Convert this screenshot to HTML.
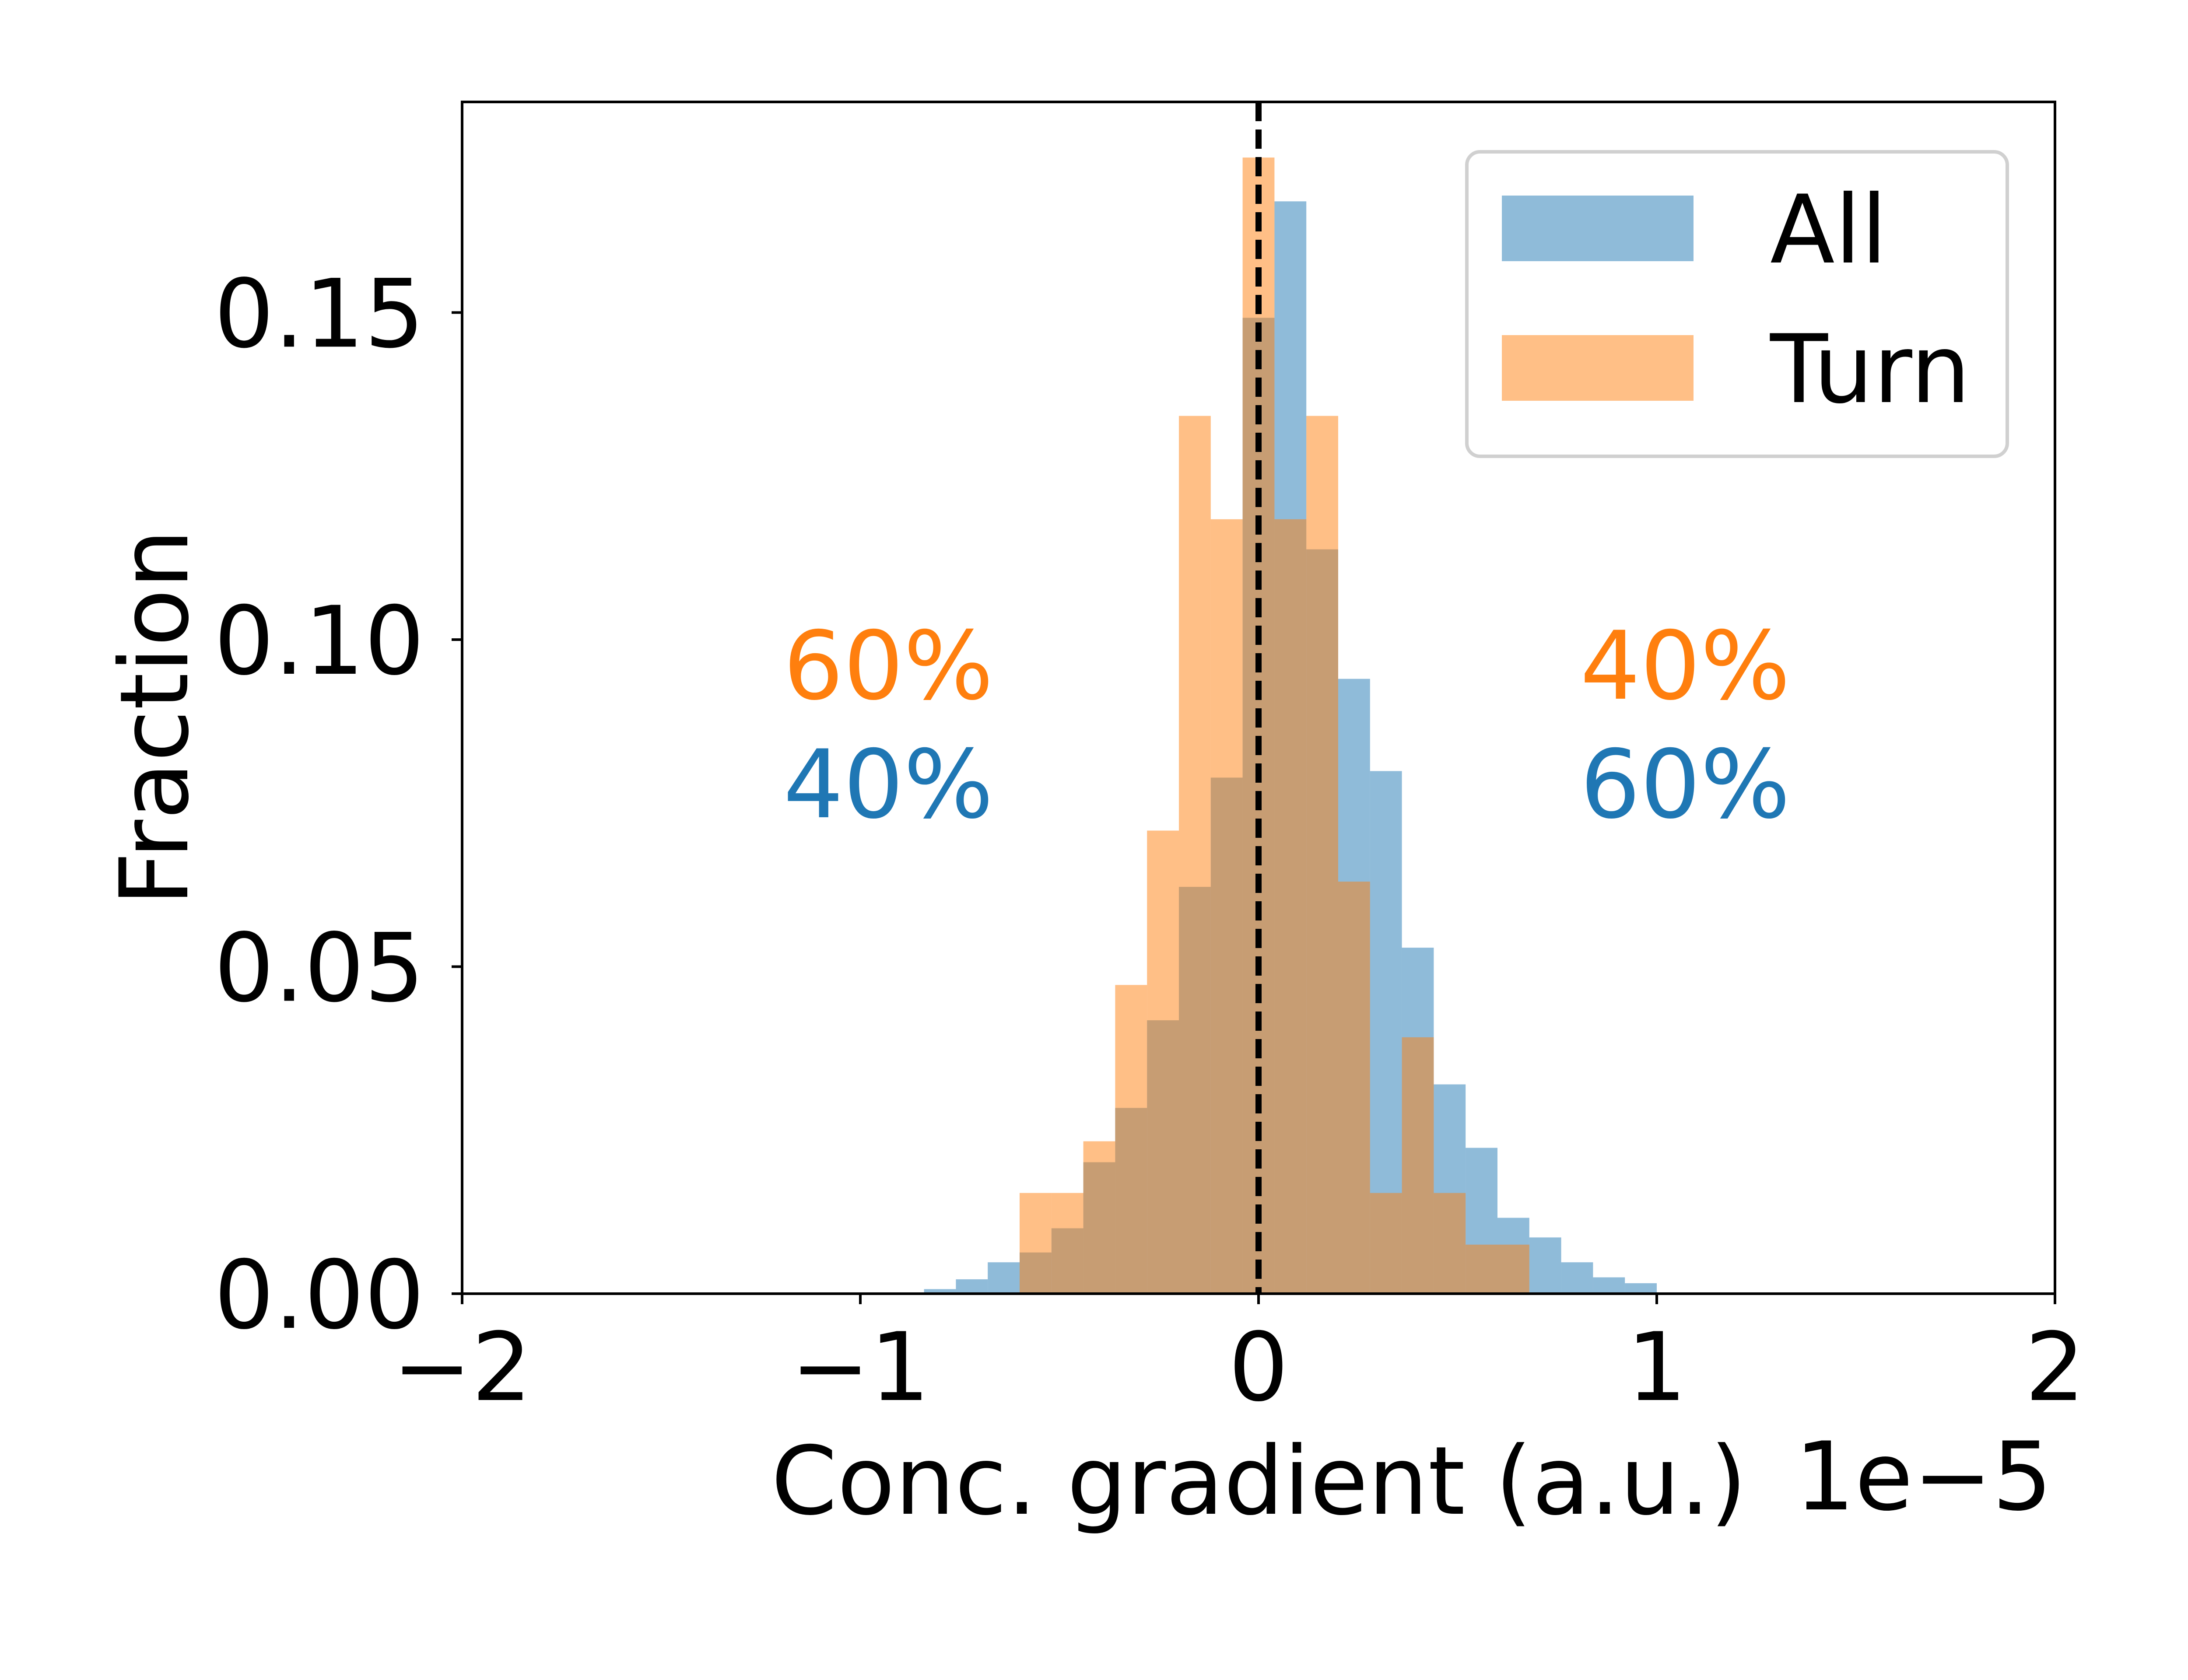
<!DOCTYPE html>
<html><head><meta charset="utf-8"><style>
html,body{margin:0;padding:0;background:#fff;width:5120px;height:3840px;overflow:hidden}
svg text{font-family:"DejaVu Sans","Liberation Sans",sans-serif}
</style></head><body>
<svg id="chart" xmlns="http://www.w3.org/2000/svg" width="5120" height="3840" viewBox="0 0 5120 3840" style="position:absolute;left:0;top:0">
<rect width="5120" height="3840" fill="#fff"/>
<g id="bars-all"></g>
<g id="bars-turn"></g>
<g id="axes"></g>
</svg>
<script>
const binStart = -0.84;
const binWidth = 0.08;
const allValues = [0.0007,0.0022,0.0048,0.0063,0.0100,0.0201,0.0284,0.0418,0.0622,0.0789,0.1492,0.1670,0.1138,0.0940,0.0799,0.0529,0.0320,0.0223,0.0116,0.0086,0.0048,0.0025,0.0016];
const turnValues = [0,0,0,0.0154,0.0154,0.0233,0.0472,0.0708,0.1342,0.1184,0.1737,0.1184,0.1342,0.0630,0.0154,0.0392,0.0154,0.0075,0.0075,0,0,0,0];
const xTicks = [-2,-1,0,1,2];
const xTickLabels = ["\u22122","\u22121","0","1","2"];
const yTicks = [0,0.05,0.10,0.15];
const yTickLabels = ["0.00","0.05","0.10","0.15"];

const L=1056,R=4696,T=233,B=2957;
const xMin=-2,xMax=2,yMin=0,yMax=0.1822;
const xs=v=>L+(v-xMin)/(xMax-xMin)*(R-L);
const ys=v=>B-(v-yMin)/(yMax-yMin)*(B-T);
const NS="http://www.w3.org/2000/svg";
function mk(tag,attrs,parent){const e=document.createElementNS(NS,tag);for(const k in attrs)e.setAttribute(k,attrs[k]);parent.appendChild(e);return e;}

const gA=document.getElementById('bars-all'),gT=document.getElementById('bars-turn'),gX=document.getElementById('axes');
allValues.forEach((v,i)=>{if(v<=0)return;const x0=xs(binStart+i*binWidth),x1=xs(binStart+(i+1)*binWidth);
 const r=mk('rect',{x:x0,y:ys(v),width:x1-x0,height:B-ys(v),fill:'#1f77b4','fill-opacity':0.5},gA);
 
 });
turnValues.forEach((v,i)=>{if(v<=0)return;const x0=xs(binStart+i*binWidth),x1=xs(binStart+(i+1)*binWidth);
 const r=mk('rect',{x:x0,y:ys(v),width:x1-x0,height:B-ys(v),fill:'#ff7f0e','fill-opacity':0.5},gT);
 
 });

const dl=mk('line',{x1:xs(0),x2:xs(0),y1:T,y2:B,stroke:'#000','stroke-width':14,'stroke-dasharray':'44 19'},gX);



const fr=mk('rect',{x:L,y:T,width:R-L,height:B-T,fill:'none',stroke:'#000','stroke-width':6},gX);



xTicks.forEach((t,i)=>{const x=xs(t);
 const tk=mk('line',{x1:x,x2:x,y1:B,y2:B+24,stroke:'#000','stroke-width':6},gX);
 
 
 const tx=mk('text',{x:x,y:3200,'font-size':216,'text-anchor':'middle',fill:'#000'},gX);
 tx.textContent=xTickLabels[i];
 
 });
yTicks.forEach((t,i)=>{const y=ys(t);
 const tk=mk('line',{x1:L-24,x2:L,y1:y,y2:y,stroke:'#000','stroke-width':6},gX);
 
 
 const tx=mk('text',{x:970,y:y+78,'font-size':216,'text-anchor':'end',fill:'#000'},gX);
 tx.textContent=yTickLabels[i];
 
 });
</script>
<svg style="position:absolute;left:0;top:0" width="5120" height="3840" xmlns="http://www.w3.org/2000/svg">
<text x="0" y="0" font-size="216" text-anchor="middle" transform="translate(428,1640) rotate(-90)" font-family="DejaVu Sans, Liberation Sans, sans-serif">Fraction</text>
<text x="2877" y="3460" font-size="216" text-anchor="middle" font-family="DejaVu Sans, Liberation Sans, sans-serif">Conc. gradient (a.u.)</text>
<text x="4690" y="3450" font-size="216" text-anchor="end" font-family="DejaVu Sans, Liberation Sans, sans-serif">1e−5</text>
<g font-size="216" font-family="DejaVu Sans, Liberation Sans, sans-serif">
<text x="1790" y="1597" fill="#ff7f0e">60%</text>
<text x="1790" y="1868" fill="#1f77b4">40%</text>
<text x="3611" y="1597" fill="#ff7f0e">40%</text>
<text x="3611" y="1868" fill="#1f77b4">60%</text>
</g>
<g>
<rect x="3352" y="347" width="1235" height="696" rx="30" fill="#fff" fill-opacity="0.8" stroke="#d0d0d0" stroke-width="8"/>
<rect x="3432" y="447" width="438" height="150" fill="#1f77b4" fill-opacity="0.5"/>
<rect x="3432" y="766" width="438" height="150" fill="#ff7f0e" fill-opacity="0.5"/>
<text x="4045" y="600" font-size="216" font-family="DejaVu Sans, Liberation Sans, sans-serif">All</text>
<text x="4045" y="919" font-size="216" font-family="DejaVu Sans, Liberation Sans, sans-serif">Turn</text>
</g>
</svg>
</body></html>
